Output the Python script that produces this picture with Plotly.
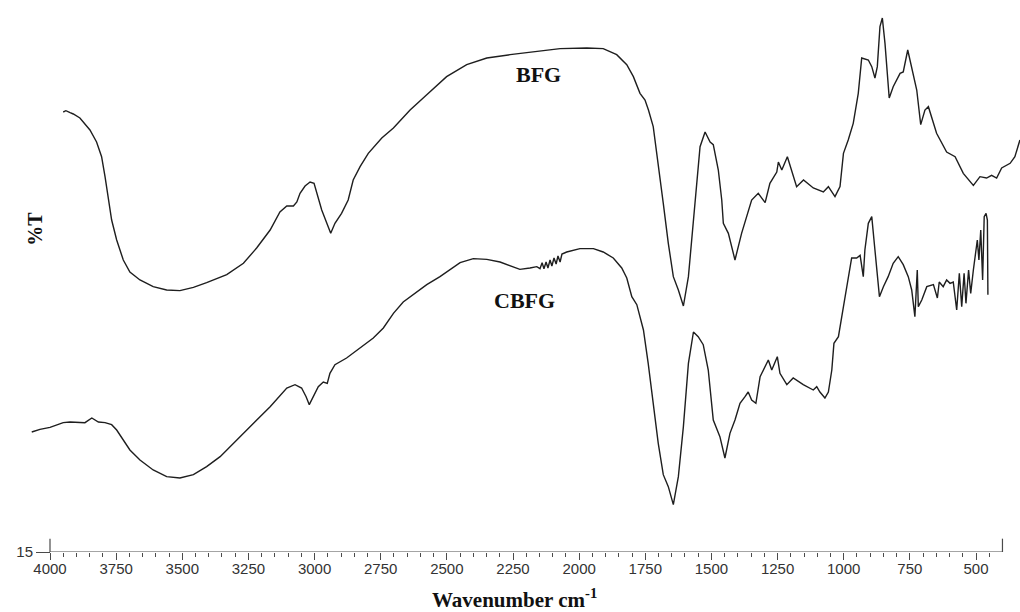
import plotly.graph_objects as go

# ---- data (wavenumber cm-1, %T) ----
bfg_wn = [3950, 3940, 3924, 3912, 3887, 3849, 3824, 3805, 3792, 3780, 3767, 3748, 3723, 3698, 3660,
          3610, 3559, 3509, 3458, 3408, 3332, 3269, 3219, 3168, 3131, 3105, 3080, 3067, 3055, 3036,
          3017, 3002, 2973, 2939, 2923, 2898, 2873, 2854, 2828, 2797, 2765, 2746, 2702, 2639, 2576,
          2501, 2425, 2349, 2261, 2173, 2072, 1971, 1909, 1858, 1820, 1795, 1770, 1751, 1738, 1720,
          1701, 1682, 1663, 1644, 1625, 1606, 1587, 1568, 1550, 1543, 1524, 1505, 1493, 1474, 1461,
          1455, 1436, 1411, 1386, 1367, 1348, 1323, 1297, 1279, 1253, 1247, 1234, 1213, 1190, 1178,
          1152, 1115, 1077, 1058, 1033, 1014, 1001, 983, 964, 945, 932, 907, 894, 882, 873,
          863, 854, 844, 828, 813, 787, 775, 758, 743, 724, 709, 693, 680, 649, 611,
          579, 548, 510, 485, 460, 441, 422, 403, 371, 353, 334]
bfg_t = [81.0, 81.2, 80.9, 80.7, 80.1, 78.3, 76.5, 74.3, 71.3, 67.8, 64.8, 61.8, 58.8, 57.0, 55.8,
         54.8, 54.3, 54.2, 54.7, 55.4, 56.6, 58.3, 60.6, 63.3, 66.0, 66.9, 66.9, 67.5, 68.8, 69.9,
         70.5, 70.3, 66.3, 62.8, 64.3, 65.8, 67.8, 70.8, 72.8, 74.8, 76.3, 77.1, 78.6, 81.3, 83.6,
         86.3, 88.1, 89.1, 89.6, 90.0, 90.5, 90.6, 90.5, 89.6, 88.1, 86.3, 83.8, 82.8, 81.3, 78.8,
         73.3, 67.3, 61.3, 56.3, 54.3, 51.9, 56.3, 65.3, 73.8, 75.8, 78.0, 76.5, 76.1, 72.3, 67.8,
         64.3, 62.8, 58.8, 62.8, 65.3, 67.8, 68.8, 67.4, 70.3, 72.0, 73.5, 72.3, 74.3, 71.3, 69.8,
         70.8, 69.6, 69.0, 69.8, 68.3, 69.8, 74.8, 76.8, 79.3, 83.8, 89.1, 88.8, 87.8, 86.1, 87.8,
         93.8, 95.1, 91.3, 83.1, 84.8, 86.8, 87.0, 90.3, 87.8, 84.3, 79.1, 81.3, 81.8, 77.8, 75.0,
         74.3, 71.8, 70.0, 71.3, 71.1, 71.5, 71.1, 72.6, 73.3, 74.3, 76.8]

cbfg_wn = [4069, 4038, 4000, 3975, 3950, 3924, 3899, 3868, 3842, 3817, 3792, 3767, 3748, 3723, 3698,
           3660, 3610, 3559, 3509, 3458, 3408, 3357, 3294, 3232, 3168, 3105, 3074, 3049, 3032, 3020,
           3005, 2986, 2967, 2952, 2942, 2923, 2879, 2828, 2778, 2740, 2702, 2665, 2627, 2576, 2526,
           2488, 2450, 2400, 2349, 2299, 2261, 2224, 2186, 2160, 2148, 2140, 2133, 2125, 2118, 2110,
           2103, 2095, 2087, 2080, 2072, 2065, 2047, 1997, 1946, 1909, 1871, 1839, 1820, 1801, 1782,
           1770, 1757, 1739, 1720, 1701, 1682, 1663, 1644, 1625, 1606, 1587, 1568, 1550, 1531, 1512,
           1493, 1468, 1449, 1430, 1411, 1392, 1373, 1361, 1348, 1332, 1316, 1297, 1285, 1272, 1251,
           1241, 1215, 1191, 1153, 1115, 1102, 1090, 1071, 1058, 1045, 1037, 1020, 1001, 989, 970,
           951, 938, 926, 920, 907, 894, 882, 865, 850, 832, 813, 794, 775, 756, 743,
           731, 722, 718, 705, 686, 661, 646, 639, 624, 611, 598, 586, 573, 563, 554,
           545, 538, 528, 520, 510, 503, 495, 489, 482, 475, 469, 462, 457, 455]
cbfg_t = [33.0, 33.4, 33.7, 34.1, 34.4, 34.5, 34.5, 34.4, 35.1, 34.5, 34.4, 34.1, 33.3, 31.8, 30.3,
          28.8, 27.3, 26.3, 26.1, 26.6, 27.8, 29.3, 31.8, 34.3, 36.8, 39.6, 40.1, 39.6, 38.3, 37.1,
          38.3, 39.8, 40.5, 40.3, 41.8, 43.1, 44.1, 45.6, 47.1, 48.6, 50.8, 52.5, 53.6, 55.1, 56.3,
          57.3, 58.4, 59.0, 58.9, 58.5, 57.9, 57.4, 57.6, 57.8, 57.5, 58.4, 57.5, 58.5, 57.6, 58.8,
          57.9, 59.1, 58.2, 59.4, 58.5, 59.7, 60.0, 60.5, 60.5, 60.0, 59.1, 57.6, 56.1, 53.3, 52.1,
          50.1, 48.3, 43.3, 37.3, 31.3, 26.6, 24.8, 22.1, 26.3, 33.8, 43.3, 48.0, 47.3, 46.1, 42.3,
          34.8, 32.3, 29.1, 32.8, 34.8, 37.3, 38.3, 39.0, 37.8, 37.3, 41.3, 42.8, 43.8, 42.3, 44.3,
          41.8, 40.1, 41.1, 40.1, 39.3, 39.8, 39.0, 38.1, 39.0, 42.3, 46.3, 47.3, 51.8, 54.8, 59.1,
          59.1, 59.5, 56.3, 60.3, 64.3, 65.3, 60.3, 53.3, 54.8, 56.3, 58.3, 59.3, 58.1, 56.3, 54.3,
          50.3, 57.3, 51.8, 52.8, 54.8, 55.1, 53.1, 55.5, 54.8, 55.8, 55.3, 55.5, 51.3, 56.8, 51.8,
          56.8, 52.3, 57.3, 53.8, 57.3, 59.3, 61.8, 58.8, 63.3, 55.8, 65.3, 65.8, 64.8, 53.6]

assert len(bfg_wn) == len(bfg_t)
assert len(cbfg_wn) == len(cbfg_t)

x_ticks = [4000, 3750, 3500, 3250, 3000, 2750, 2500, 2250, 2000, 1750, 1500, 1250, 1000, 750, 500]
x_minor = [v for v in range(3950, 400, -50) if v % 250 != 0]
axis_start, axis_end = 4000, 400
y_base = 15

series_labels = [("BFG", 2152, 86.7), ("CBFG", 2208, 52.8)]

LINE = "#1e1e1e"
AX = "#4a4a4a"

fig = go.Figure()
fig.add_trace(go.Scatter(x=bfg_wn, y=bfg_t, mode="lines", name="BFG",
                         line=dict(color=LINE, width=1.4), showlegend=False))
fig.add_trace(go.Scatter(x=cbfg_wn, y=cbfg_t, mode="lines", name="CBFG",
                         line=dict(color=LINE, width=1.4), showlegend=False))

for txt, xx, yy in series_labels:
    fig.add_annotation(x=xx, y=yy, xref="x", yref="y", text=f"<b>{txt}</b>", showarrow=False,
                       font=dict(family="Liberation Serif, Times New Roman, serif", size=22, color="#111"))

# axis baseline and end marks
fig.add_shape(type="line", xref="x", yref="y", x0=axis_start, x1=axis_end, y0=y_base, y1=y_base,
              line=dict(color=AX, width=1.2))
for xv in (axis_start, axis_end):
    fig.add_shape(type="line", xref="x", yref="y", x0=xv, x1=xv, y0=y_base, y1=y_base + 2.0,
                  line=dict(color=AX, width=1.2))

fig.add_annotation(xref="paper", yref="paper", x=0.0213, y=0.585, text="<b>%T</b>", textangle=-90,
                   showarrow=False,
                   font=dict(family="Liberation Serif, Times New Roman, serif", size=20, color="#111"))
fig.add_annotation(xref="paper", yref="paper", x=0.504, y=-0.085, yanchor="middle",
                   text="<b>Wavenumber cm<sup>-1</sup></b>", showarrow=False,
                   font=dict(family="Liberation Serif, Times New Roman, serif", size=21, color="#111"))

fig.update_layout(
    width=1020, height=612,
    margin=dict(l=0, r=0, t=0, b=60),
    paper_bgcolor="white", plot_bgcolor="white",
    xaxis=dict(range=[4189, 333.7], showgrid=False, zeroline=False, showline=False,
               tickmode="array", tickvals=x_ticks, ticktext=[str(v) for v in x_ticks],
               ticks="outside", ticklen=7, tickwidth=1, tickcolor=AX, ticklabelstandoff=-4,
               tickfont=dict(family="Liberation Sans, Arial, sans-serif", size=15, color="#333"),
               minor=dict(tickmode="array", tickvals=x_minor, ticks="outside", ticklen=4,
                          tickwidth=1, tickcolor=AX, showgrid=False)),
    yaxis=dict(range=[15, 97.8], showgrid=False, zeroline=False, showline=False,
               anchor="free", position=50 / 1020,
               tickmode="array", tickvals=[15], ticktext=["15"],
               ticks="outside", ticklen=14, tickwidth=1, tickcolor=AX,
               tickfont=dict(family="Liberation Sans, Arial, sans-serif", size=15, color="#333")),
)

fig.write_html("out.html")
